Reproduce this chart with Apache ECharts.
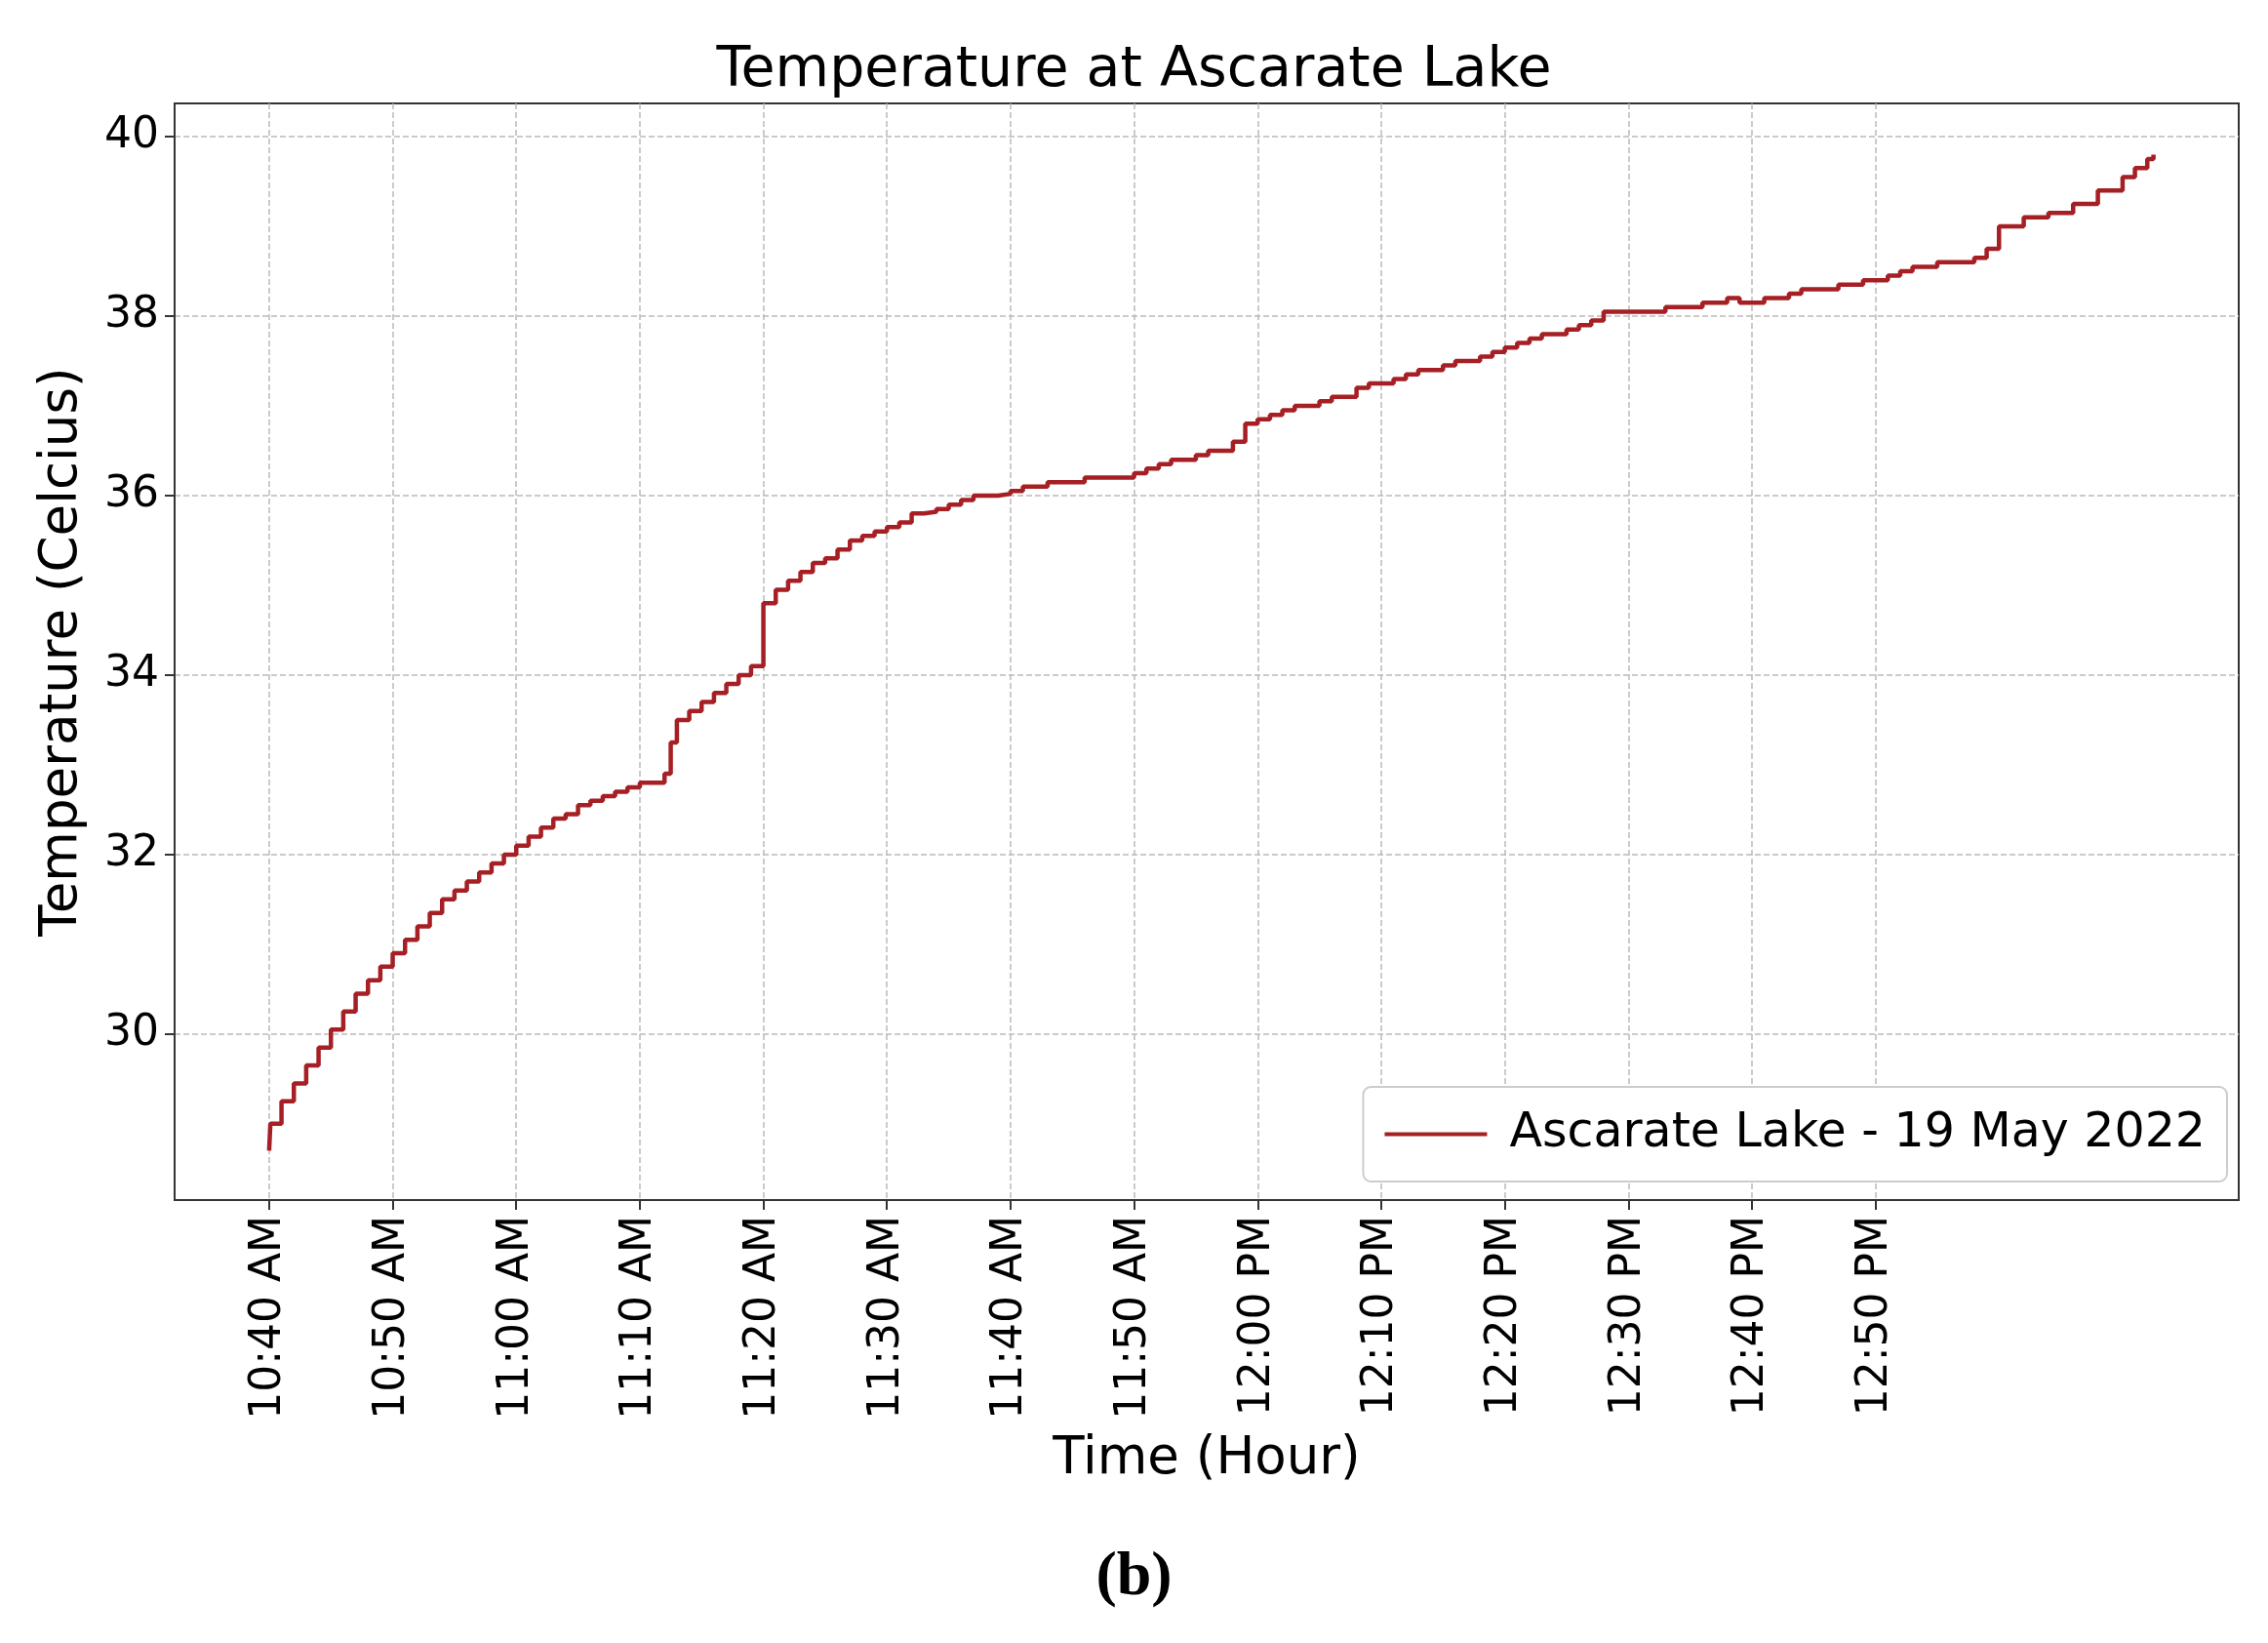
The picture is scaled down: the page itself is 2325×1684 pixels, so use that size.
<!DOCTYPE html>
<html><head><meta charset="utf-8">
<script src="https://cdn.jsdelivr.net/npm/echarts@6/dist/echarts.min.js"></script>
<style>html,body{margin:0;padding:0;background:#fff}#c{width:2325px;height:1684px}</style>
</head><body><div id="c"></div>
<script>
// minutes since midnight -> temperature (°C), stepped
const times = [640,640.1,641,642,643,644,645,646,647,648,649,650,651,652,653,654,655,656,657,658,659,660,661,662,663,664,665,666,667,668,669,670,671,672,672.5,673,674,675,676,677,678,679,
680,681,682,683,684,685,686,687,688,689,690,691,692,693,694,695,696,697,698,699,700,701,702,703,704,705,706,707,708,709,710,711,712,713,714,715,716,717,718,719,
720,721,722,723,724,725,726,727,728,729,730,731,732,733,734,735,736,737,738,739,740,741,742,743,744,745,746,747,748,749,750,751,752,753,754,755,756,757,758,759,
760,761,762,763,764,765,766,767,768,769,770,771,772,773,774,775,776,777,778,779,
780,782,784,786,788,790,791,792,792.5];
const temps = [28.7,29.0,29.25,29.45,29.65,29.85,30.05,30.25,30.45,30.6,30.75,30.9,31.05,31.2,31.35,31.5,31.6,31.7,31.8,31.9,32.0,32.1,32.2,32.3,32.4,32.45,32.55,32.6,32.65,32.7,32.75,32.8,32.8,32.9,33.25,33.5,33.6,33.7,33.8,33.9,34.0,34.1,
34.8,34.95,35.05,35.15,35.25,35.3,35.4,35.5,35.55,35.6,35.65,35.7,35.8,35.82,35.85,35.9,35.95,36.0,36.0,36.02,36.05,36.1,36.1,36.15,36.15,36.15,36.2,36.2,36.2,36.2,36.25,36.3,36.35,36.4,36.4,36.45,36.5,36.5,36.6,36.8,
36.85,36.9,36.95,37.0,37.0,37.05,37.1,37.1,37.2,37.25,37.25,37.3,37.35,37.4,37.4,37.45,37.5,37.5,37.55,37.6,37.65,37.7,37.75,37.8,37.8,37.85,37.9,37.95,38.05,38.05,38.05,38.05,38.05,38.1,38.1,38.1,38.15,38.15,38.2,38.15,
38.15,38.2,38.2,38.25,38.3,38.3,38.3,38.35,38.35,38.4,38.4,38.45,38.5,38.55,38.55,38.6,38.6,38.6,38.65,38.75,
39.0,39.1,39.15,39.25,39.4,39.55,39.65,39.75,39.8];
const tickMinutes = [640,650,660,670,680,690,700,710,720,730,740,750,760,770];
const yTicks = [30,32,34,36,38,40];
const seriesName = 'Ascarate Lake - 19 May 2022';

function fmt(m){let h=Math.floor(m/60),mm=Math.round(m-h*60);const ap=h>=12?'PM':'AM';if(h>12)h-=12;return h+':'+(mm<10?'0':'')+mm+' '+ap;}
const data = times.map((t,i)=>[t,temps[i]]);
const F='DejaVu Sans';
const chart = echarts.init(document.getElementById('c'));
chart.setOption({
  animation:false,
  title:{text:'Temperature at Ascarate Lake',left:'center',top:40,textStyle:{fontFamily:F,fontSize:57,fontWeight:'normal',color:'#000'}},
  grid:{left:179,right:30,top:106,bottom:454},
  legend:{right:42,top:1114,itemWidth:105,itemHeight:4,itemGap:20,padding:[24,22,24,22],borderColor:'#ccc',borderWidth:2,borderRadius:8,backgroundColor:'#fff',
    textStyle:{fontFamily:F,fontSize:49,color:'#000',padding:[0,0,0,18]},data:[{name:seriesName,icon:'rect'}]},
  xAxis:{type:'value',min:632.35,max:799.4,
    name:'Time (Hour)',nameLocation:'middle',nameGap:240,nameTextStyle:{fontFamily:F,fontSize:53,color:'#000'},
    axisLine:{onZero:false,lineStyle:{color:'#333',width:2}},
    axisTick:{show:true,customValues:tickMinutes,length:10,lineStyle:{color:'#333',width:2}},
    axisLabel:{customValues:tickMinutes,rotate:90,formatter:fmt,fontFamily:F,fontSize:44,color:'#000',margin:16},
    splitLine:{show:true,lineStyle:{type:'dashed',color:'#bbb',width:1.5}}},
  yAxis:{type:'value',min:28.15,max:40.37,
    name:'Temperature (Celcius)',nameLocation:'middle',nameGap:88,nameTextStyle:{fontFamily:F,fontSize:53,color:'#000'},
    axisLine:{show:true,lineStyle:{color:'#333',width:2}},
    axisTick:{show:true,customValues:yTicks,length:10,lineStyle:{color:'#333',width:2}},
    axisLabel:{customValues:yTicks,fontFamily:F,fontSize:44,color:'#000',margin:16},
    splitLine:{show:true,lineStyle:{type:'dashed',color:'#bbb',width:1.5}}},
  series:[{name:seriesName,type:'line',step:'end',data:data,showSymbol:false,lineStyle:{color:'#a51f24',width:4.5},itemStyle:{color:'#a51f24'}}],
  graphic:[
    {type:'rect',shape:{x:179,y:106,width:2116,height:1124},style:{fill:'none',stroke:'#333',lineWidth:2},silent:true,z:0},
    {type:'text',left:'center',top:1585,style:{text:'(b)',font:'bold 64px "Liberation Serif"',fill:'#000'}}
  ]
});
</script></body></html>
